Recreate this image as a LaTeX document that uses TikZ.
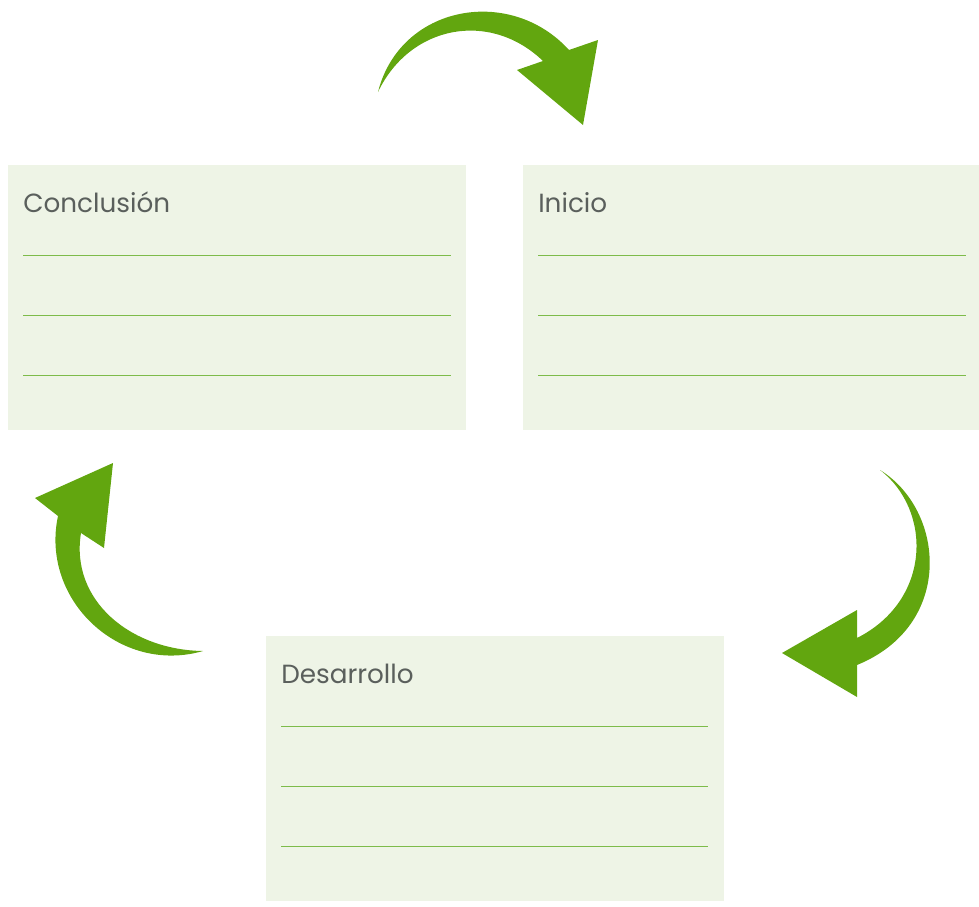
\documentclass[tikz,border=0pt]{standalone}
\usepackage{fontspec}
\setmainfont{Poppins}
\definecolor{boxfill}{HTML}{EEF4E6}
\definecolor{linegreen}{HTML}{7DBB4A}
\definecolor{arrowgreen}{HTML}{62A60F}
\definecolor{txt}{HTML}{5A5F5C}
\begin{document}
\begin{tikzpicture}[x=0.75pt,y=-0.75pt,
  card/.style={fill=boxfill,draw=none},
  title/.style={anchor=base west,inner sep=0pt,text=txt,font=\fontsize{19.7}{22}\selectfont},
  rule/.style={draw=linegreen,line width=0.6pt},
  bigarrow/.style={fill=arrowgreen,draw=none}]
\useasboundingbox (0,0) rectangle (979,907);
% cards
\fill[card] (8,165) rectangle (466,430);
\fill[card] (523,165) rectangle (979,430);
\fill[card] (266,636) rectangle (724,901);
\node[title] (tc) at (23,212) {Conclusión};
\node[title] (ti) at (538,212) {Inicio};
\node[title] (td) at (281,683) {Desarrollo};
\foreach \y in {255,315,375}{
  \draw[rule] (23,\y) -- (451,\y);
  \draw[rule] (538,\y) -- (966,\y);
}
\foreach \y in {726,786,846}{
  \draw[rule] (281,\y) -- (708,\y);
}
% top arrow
\fill[bigarrow] (378,92) .. controls (400,5) and (510,-15) .. (569,50)
  -- (598,40) -- (583,125) -- (517,70) -- (543,61)
  .. controls (490,10) and (410,25) .. (378,92) -- cycle;
% right arrow
\fill[bigarrow] (880,470) .. controls (945,510) and (955,625) .. (857,665)
  -- (857,697) -- (782,653) -- (857,610) -- (857,638)
  .. controls (932,600) and (932,510) .. (880,470) -- cycle;
% left arrow
\fill[bigarrow] (203,651) .. controls (120,675) and (40,600) .. (58,516)
  -- (35,498) -- (113,463) -- (104,548) -- (81,533)
  .. controls (70,600) and (130,650) .. (203,651) -- cycle;
\end{tikzpicture}
\end{document}
